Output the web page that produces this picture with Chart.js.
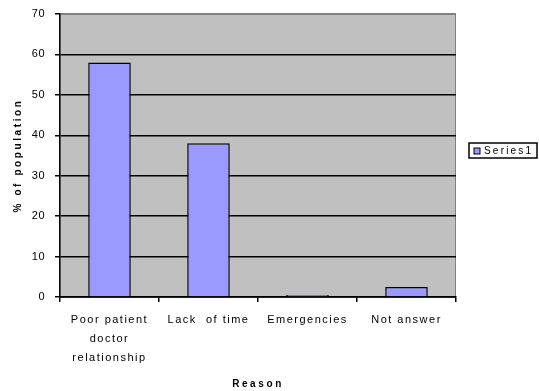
<!DOCTYPE html>
<html>
<head>
<meta charset="utf-8">
<script src="https://cdn.jsdelivr.net/npm/chart.js@4/dist/chart.umd.min.js"></script>
<style>
  html, body { margin: 0; padding: 0; background: #fff; }
  #wrap { width: 539px; height: 391px; }
</style>
</head>
<body>
<div id="wrap"><canvas id="reasons"></canvas></div>
<script>
var reasons = [["Poor patient", "doctor", "relationship"], "Lack  of time", "Emergencies", "Not answer"];
var percentOfPopulation = [58, 38, 0.5, 2.5];
var seriesName = "Series1";

var FONT = "'Liberation Sans', Arial, sans-serif";

// wrap a scale draw step so its text comes out with some letter spacing
function spaced(fn, spacing) {
    return function() {
        var c = this.ctx;
        var prev = c.letterSpacing;
        c.letterSpacing = spacing;
        fn.apply(this, arguments);
        c.letterSpacing = prev;
    };
}

var wideText = {
    id: 'wideText',
    beforeDraw: function(chart) {
        var x = chart.scales.x, y = chart.scales.y;
        if (x._spaced) return;
        x.drawLabels = spaced(x.drawLabels, '1.5px');
        x.drawTitle = spaced(x.drawTitle, '2.6px');
        y.drawLabels = spaced(y.drawLabels, '0.5px');
        y.drawTitle = spaced(y.drawTitle, '2.6px');
        x._spaced = true;
    }
};

// grey plot area with a thin frame, then the boxed legend on the right
var plotFrame = {
    id: 'plotFrame',
    beforeDraw: function(chart) {
        var a = chart.chartArea, c = chart.ctx;
        c.save();
        c.fillStyle = '#c0c0c0';
        c.fillRect(a.left, a.top, a.right - a.left, a.bottom - a.top);
        c.strokeStyle = '#808080';
        c.lineWidth = 1;
        c.strokeRect(a.left, a.top + 0.5, a.right - a.left - 0.5, a.bottom - a.top);
        c.restore();
    },
    afterDraw: function(chart) {
        var c = chart.ctx;
        var ds = chart.data.datasets[0];
        var x = 469, y = 143, w = 68, h = 15;
        c.save();
        c.fillStyle = '#fff';
        c.fillRect(x, y, w, h);
        c.strokeStyle = '#000';
        c.lineWidth = 1.5;
        c.strokeRect(x, y, w, h);
        c.fillStyle = ds.backgroundColor;
        c.fillRect(x + 5, y + 5, 6, 6);
        c.lineWidth = 1;
        c.strokeRect(x + 5, y + 5, 6, 6);
        c.fillStyle = '#000';
        c.font = '10px ' + FONT;
        c.letterSpacing = '2.2px';
        c.textBaseline = 'middle';
        c.fillText(ds.label, x + 15, y + h / 2 + 0.5);
        c.restore();
    }
};

var ctx = document.getElementById('reasons').getContext('2d');
var chart = new Chart(ctx, {
    type: 'bar',
    data: {
        labels: reasons,
        datasets: [{
            label: seriesName,
            data: percentOfPopulation,
            backgroundColor: '#9999ff',
            borderColor: '#000',
            borderWidth: 1.5,
            categoryPercentage: 1,
            barPercentage: 0.43
        }]
    },
    options: {
        responsive: true,
        maintainAspectRatio: false,
        animation: false,
        layout: { padding: { left: 8, right: 83, top: 14, bottom: 0 } },
        plugins: {
            legend: { display: false },
            tooltip: { enabled: false }
        },
        scales: {
            x: {
                grid: { offset: true, drawOnChartArea: false, tickLength: 5, color: '#000', lineWidth: 1.5 },
                border: { color: '#000', width: 1.5 },
                ticks: { color: '#000', font: { family: FONT, size: 11, lineHeight: 1.75 }, padding: 8, maxRotation: 0, autoSkip: false },
                title: { display: true, text: 'Reason', color: '#000', padding: { top: 4, bottom: 1 }, font: { family: FONT, size: 10, weight: 'bold' } },
                afterFit: function(scale) { scale.height = 94; }
            },
            y: {
                min: 0,
                max: 70,
                ticks: { stepSize: 10, color: '#000', font: { family: FONT, size: 11 }, padding: 10 },
                grid: {
                    tickLength: 5,
                    lineWidth: 1.5,
                    tickColor: '#000',
                    color: function(c) { return c.tick && c.tick.value === 70 ? '#808080' : '#000'; }
                },
                border: { color: '#000', width: 1.5 },
                title: { display: true, text: '% of population', color: '#000', font: { family: FONT, size: 10, weight: 'bold' } },
                afterFit: function(scale) {
                    scale.width = 52;
                    scale.paddingTop = 0;
                    scale.paddingBottom = 0;
                }
            }
        }
    },
    plugins: [wideText, plotFrame]
});
</script>
</body>
</html>
